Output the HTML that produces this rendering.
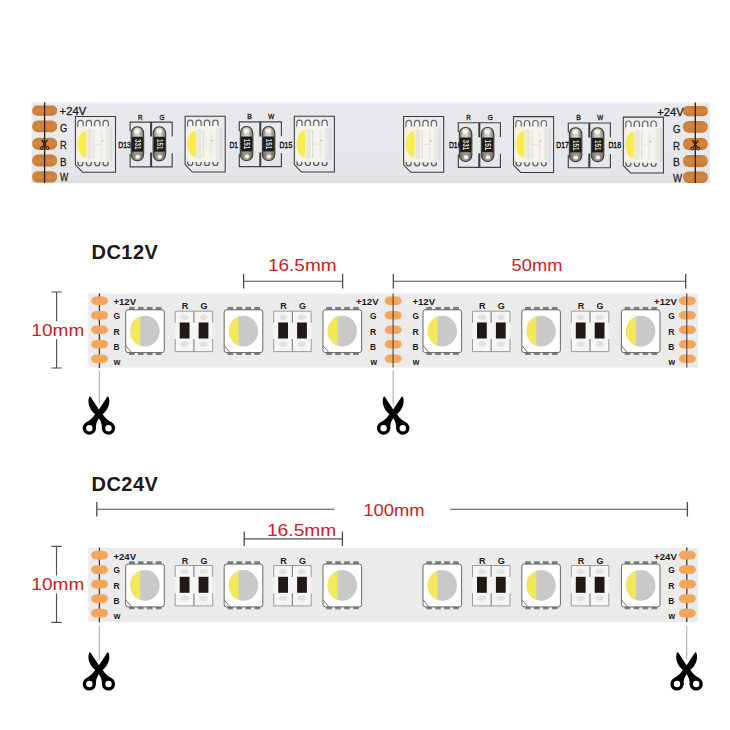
<!DOCTYPE html>
<html><head><meta charset="utf-8"><title>LED strip</title>
<style>html,body{margin:0;padding:0;background:#fff;width:730px;height:730px;overflow:hidden;}svg{display:block;font-family:"Liberation Sans",sans-serif;}</style>
</head><body>
<svg width="730" height="730" viewBox="0 0 730 730">
<defs>
<linearGradient id="pcb" x1="0" y1="0" x2="0" y2="1"><stop offset="0" stop-color="#e6e8ec"/><stop offset="0.45" stop-color="#e8e9ed"/><stop offset="0.9" stop-color="#e3e5e9"/><stop offset="1" stop-color="#dcdee2"/></linearGradient>
<linearGradient id="ledbody" x1="0" y1="0" x2="1" y2="0"><stop offset="0" stop-color="#f6f3df"/><stop offset="0.35" stop-color="#f5f4ec"/><stop offset="1" stop-color="#f4f4f0"/></linearGradient>
<radialGradient id="yel" cx="0.75" cy="0.5" r="0.75"><stop offset="0" stop-color="#fbee3e"/><stop offset="0.6" stop-color="#f8ea56"/><stop offset="1" stop-color="#f4e994"/></radialGradient>
<linearGradient id="cap" x1="0" y1="0" x2="1" y2="0"><stop offset="0" stop-color="#6b6a62"/><stop offset="0.3" stop-color="#cfcbc0"/><stop offset="0.6" stop-color="#d9d6cc"/><stop offset="1" stop-color="#77756c"/></linearGradient>
<linearGradient id="cu" x1="0" y1="0" x2="0" y2="1"><stop offset="0" stop-color="#c97c37"/><stop offset="0.5" stop-color="#d3863d"/><stop offset="1" stop-color="#c67a35"/></linearGradient>
</defs>
<rect width="730" height="730" fill="#ffffff"/>
<g font-family="Liberation Sans, sans-serif">
<rect x="31.5" y="102.3" width="678.5" height="80.8" fill="url(#pcb)"/>
<rect x="31.5" y="102.3" width="678.5" height="1.2" fill="#f1f2f5"/>
<rect x="31.5" y="181.6" width="678.5" height="1.5" fill="#dcdee3"/>
<g transform="translate(0,-0.1)">
<path d="M75.40,116.5 H115.50 V172.3 H82.60 L75.40,164.90 Z" fill="#e8eaee" stroke="#3a3a3c" stroke-width="1.05"/>
<rect x="109.20" y="127.4" width="3.0" height="33.79999999999998" fill="#d6d8dd" opacity="0.8"/>
<path d="M77.30,128.40 V123.10 A3.2,3.3 0 0 1 83.70,123.10 V128.40 Z" fill="#676765"/>
<path d="M78.50,128.40 V123.20 A2.0,2.2 0 0 1 82.50,123.20 V128.40 Z" fill="#f6f6f4"/>
<path d="M77.40,160.20 V163.50 A3.1,2.9 0 0 0 83.60,163.50 V160.20 Z" fill="#5e5e5c"/>
<path d="M78.70,160.20 V163.50 A1.8,1.8 0 0 0 82.30,163.50 V160.20 Z" fill="#e6e6e2"/>
<path d="M85.70,128.40 V123.10 A3.2,3.3 0 0 1 92.10,123.10 V128.40 Z" fill="#676765"/>
<path d="M86.90,128.40 V123.20 A2.0,2.2 0 0 1 90.90,123.20 V128.40 Z" fill="#f6f6f4"/>
<path d="M85.80,160.20 V163.50 A3.1,2.9 0 0 0 92.00,163.50 V160.20 Z" fill="#5e5e5c"/>
<path d="M87.10,160.20 V163.50 A1.8,1.8 0 0 0 90.70,163.50 V160.20 Z" fill="#e6e6e2"/>
<path d="M94.10,128.40 V123.10 A3.2,3.3 0 0 1 100.50,123.10 V128.40 Z" fill="#676765"/>
<path d="M95.30,128.40 V123.20 A2.0,2.2 0 0 1 99.30,123.20 V128.40 Z" fill="#f6f6f4"/>
<path d="M94.20,160.20 V163.50 A3.1,2.9 0 0 0 100.40,163.50 V160.20 Z" fill="#5e5e5c"/>
<path d="M95.50,160.20 V163.50 A1.8,1.8 0 0 0 99.10,163.50 V160.20 Z" fill="#e6e6e2"/>
<path d="M102.50,128.40 V123.10 A3.2,3.3 0 0 1 108.90,123.10 V128.40 Z" fill="#676765"/>
<path d="M103.70,128.40 V123.20 A2.0,2.2 0 0 1 107.70,123.20 V128.40 Z" fill="#f6f6f4"/>
<path d="M102.60,160.20 V163.50 A3.1,2.9 0 0 0 108.80,163.50 V160.20 Z" fill="#5e5e5c"/>
<path d="M103.90,160.20 V163.50 A1.8,1.8 0 0 0 107.50,163.50 V160.20 Z" fill="#e6e6e2"/>
<rect x="77.00" y="126.4" width="33.2" height="35.79999999999998" rx="2.2" ry="2.2" fill="url(#ledbody)"/>
<rect x="87.20" y="129.4" width="4.6" height="29.799999999999983" fill="#dcdad2" opacity="0.55"/>
<rect x="93.20" y="130.4" width="1.2" height="27.799999999999983" fill="#d6d4cb" opacity="0.7"/>
<rect x="100.80" y="130.4" width="1.2" height="27.799999999999983" fill="#d6d4cb" opacity="0.5"/>
<rect x="93.80" y="143.9" width="7" height="1.0" fill="#d6d4cb" opacity="0.5"/>
<circle cx="102.60" cy="140.9" r="0.8" fill="#a89c88" opacity="0.8"/>
<rect x="106.00" y="127.4" width="4.2" height="33.79999999999998" rx="1.5" fill="#e4e4e0" opacity="0.7"/>
<path d="M86.40,130.9 A9.2,13.3 0 0 0 86.40,157.5 Z" fill="url(#yel)"/>
</g>
<g transform="translate(0,-0.3)">
<path d="M185.10,116.5 H225.20 V172.3 H192.30 L185.10,164.90 Z" fill="#e8eaee" stroke="#3a3a3c" stroke-width="1.05"/>
<rect x="218.90" y="127.4" width="3.0" height="33.79999999999998" fill="#d6d8dd" opacity="0.8"/>
<path d="M187.00,128.40 V123.10 A3.2,3.3 0 0 1 193.40,123.10 V128.40 Z" fill="#676765"/>
<path d="M188.20,128.40 V123.20 A2.0,2.2 0 0 1 192.20,123.20 V128.40 Z" fill="#f6f6f4"/>
<path d="M187.10,160.20 V163.50 A3.1,2.9 0 0 0 193.30,163.50 V160.20 Z" fill="#5e5e5c"/>
<path d="M188.40,160.20 V163.50 A1.8,1.8 0 0 0 192.00,163.50 V160.20 Z" fill="#e6e6e2"/>
<path d="M195.40,128.40 V123.10 A3.2,3.3 0 0 1 201.80,123.10 V128.40 Z" fill="#676765"/>
<path d="M196.60,128.40 V123.20 A2.0,2.2 0 0 1 200.60,123.20 V128.40 Z" fill="#f6f6f4"/>
<path d="M195.50,160.20 V163.50 A3.1,2.9 0 0 0 201.70,163.50 V160.20 Z" fill="#5e5e5c"/>
<path d="M196.80,160.20 V163.50 A1.8,1.8 0 0 0 200.40,163.50 V160.20 Z" fill="#e6e6e2"/>
<path d="M203.80,128.40 V123.10 A3.2,3.3 0 0 1 210.20,123.10 V128.40 Z" fill="#676765"/>
<path d="M205.00,128.40 V123.20 A2.0,2.2 0 0 1 209.00,123.20 V128.40 Z" fill="#f6f6f4"/>
<path d="M203.90,160.20 V163.50 A3.1,2.9 0 0 0 210.10,163.50 V160.20 Z" fill="#5e5e5c"/>
<path d="M205.20,160.20 V163.50 A1.8,1.8 0 0 0 208.80,163.50 V160.20 Z" fill="#e6e6e2"/>
<path d="M212.20,128.40 V123.10 A3.2,3.3 0 0 1 218.60,123.10 V128.40 Z" fill="#676765"/>
<path d="M213.40,128.40 V123.20 A2.0,2.2 0 0 1 217.40,123.20 V128.40 Z" fill="#f6f6f4"/>
<path d="M212.30,160.20 V163.50 A3.1,2.9 0 0 0 218.50,163.50 V160.20 Z" fill="#5e5e5c"/>
<path d="M213.60,160.20 V163.50 A1.8,1.8 0 0 0 217.20,163.50 V160.20 Z" fill="#e6e6e2"/>
<rect x="186.70" y="126.4" width="33.2" height="35.79999999999998" rx="2.2" ry="2.2" fill="url(#ledbody)"/>
<rect x="196.90" y="129.4" width="4.6" height="29.799999999999983" fill="#dcdad2" opacity="0.55"/>
<rect x="202.90" y="130.4" width="1.2" height="27.799999999999983" fill="#d6d4cb" opacity="0.7"/>
<rect x="210.50" y="130.4" width="1.2" height="27.799999999999983" fill="#d6d4cb" opacity="0.5"/>
<rect x="203.50" y="143.9" width="7" height="1.0" fill="#d6d4cb" opacity="0.5"/>
<circle cx="212.30" cy="140.9" r="0.8" fill="#a89c88" opacity="0.8"/>
<rect x="215.70" y="127.4" width="4.2" height="33.79999999999998" rx="1.5" fill="#e4e4e0" opacity="0.7"/>
<path d="M196.10,130.9 A9.2,13.3 0 0 0 196.10,157.5 Z" fill="url(#yel)"/>
</g>
<g transform="translate(0,-0.3)">
<path d="M294.30,116.5 H334.40 V172.3 H301.50 L294.30,164.90 Z" fill="#e8eaee" stroke="#3a3a3c" stroke-width="1.05"/>
<rect x="328.10" y="127.4" width="3.0" height="33.79999999999998" fill="#d6d8dd" opacity="0.8"/>
<path d="M296.20,128.40 V123.10 A3.2,3.3 0 0 1 302.60,123.10 V128.40 Z" fill="#676765"/>
<path d="M297.40,128.40 V123.20 A2.0,2.2 0 0 1 301.40,123.20 V128.40 Z" fill="#f6f6f4"/>
<path d="M296.30,160.20 V163.50 A3.1,2.9 0 0 0 302.50,163.50 V160.20 Z" fill="#5e5e5c"/>
<path d="M297.60,160.20 V163.50 A1.8,1.8 0 0 0 301.20,163.50 V160.20 Z" fill="#e6e6e2"/>
<path d="M304.60,128.40 V123.10 A3.2,3.3 0 0 1 311.00,123.10 V128.40 Z" fill="#676765"/>
<path d="M305.80,128.40 V123.20 A2.0,2.2 0 0 1 309.80,123.20 V128.40 Z" fill="#f6f6f4"/>
<path d="M304.70,160.20 V163.50 A3.1,2.9 0 0 0 310.90,163.50 V160.20 Z" fill="#5e5e5c"/>
<path d="M306.00,160.20 V163.50 A1.8,1.8 0 0 0 309.60,163.50 V160.20 Z" fill="#e6e6e2"/>
<path d="M313.00,128.40 V123.10 A3.2,3.3 0 0 1 319.40,123.10 V128.40 Z" fill="#676765"/>
<path d="M314.20,128.40 V123.20 A2.0,2.2 0 0 1 318.20,123.20 V128.40 Z" fill="#f6f6f4"/>
<path d="M313.10,160.20 V163.50 A3.1,2.9 0 0 0 319.30,163.50 V160.20 Z" fill="#5e5e5c"/>
<path d="M314.40,160.20 V163.50 A1.8,1.8 0 0 0 318.00,163.50 V160.20 Z" fill="#e6e6e2"/>
<path d="M321.40,128.40 V123.10 A3.2,3.3 0 0 1 327.80,123.10 V128.40 Z" fill="#676765"/>
<path d="M322.60,128.40 V123.20 A2.0,2.2 0 0 1 326.60,123.20 V128.40 Z" fill="#f6f6f4"/>
<path d="M321.50,160.20 V163.50 A3.1,2.9 0 0 0 327.70,163.50 V160.20 Z" fill="#5e5e5c"/>
<path d="M322.80,160.20 V163.50 A1.8,1.8 0 0 0 326.40,163.50 V160.20 Z" fill="#e6e6e2"/>
<rect x="295.90" y="126.4" width="33.2" height="35.79999999999998" rx="2.2" ry="2.2" fill="url(#ledbody)"/>
<rect x="306.10" y="129.4" width="4.6" height="29.799999999999983" fill="#dcdad2" opacity="0.55"/>
<rect x="312.10" y="130.4" width="1.2" height="27.799999999999983" fill="#d6d4cb" opacity="0.7"/>
<rect x="319.70" y="130.4" width="1.2" height="27.799999999999983" fill="#d6d4cb" opacity="0.5"/>
<rect x="312.70" y="143.9" width="7" height="1.0" fill="#d6d4cb" opacity="0.5"/>
<circle cx="321.50" cy="140.9" r="0.8" fill="#a89c88" opacity="0.8"/>
<rect x="324.90" y="127.4" width="4.2" height="33.79999999999998" rx="1.5" fill="#e4e4e0" opacity="0.7"/>
<path d="M305.30,130.9 A9.2,13.3 0 0 0 305.30,157.5 Z" fill="url(#yel)"/>
</g>
<g transform="translate(0,0.0)">
<path d="M403.60,116.5 H443.70 V172.3 H410.80 L403.60,164.90 Z" fill="#e8eaee" stroke="#3a3a3c" stroke-width="1.05"/>
<rect x="437.40" y="127.4" width="3.0" height="33.79999999999998" fill="#d6d8dd" opacity="0.8"/>
<path d="M405.50,128.40 V123.10 A3.2,3.3 0 0 1 411.90,123.10 V128.40 Z" fill="#676765"/>
<path d="M406.70,128.40 V123.20 A2.0,2.2 0 0 1 410.70,123.20 V128.40 Z" fill="#f6f6f4"/>
<path d="M405.60,160.20 V163.50 A3.1,2.9 0 0 0 411.80,163.50 V160.20 Z" fill="#5e5e5c"/>
<path d="M406.90,160.20 V163.50 A1.8,1.8 0 0 0 410.50,163.50 V160.20 Z" fill="#e6e6e2"/>
<path d="M413.90,128.40 V123.10 A3.2,3.3 0 0 1 420.30,123.10 V128.40 Z" fill="#676765"/>
<path d="M415.10,128.40 V123.20 A2.0,2.2 0 0 1 419.10,123.20 V128.40 Z" fill="#f6f6f4"/>
<path d="M414.00,160.20 V163.50 A3.1,2.9 0 0 0 420.20,163.50 V160.20 Z" fill="#5e5e5c"/>
<path d="M415.30,160.20 V163.50 A1.8,1.8 0 0 0 418.90,163.50 V160.20 Z" fill="#e6e6e2"/>
<path d="M422.30,128.40 V123.10 A3.2,3.3 0 0 1 428.70,123.10 V128.40 Z" fill="#676765"/>
<path d="M423.50,128.40 V123.20 A2.0,2.2 0 0 1 427.50,123.20 V128.40 Z" fill="#f6f6f4"/>
<path d="M422.40,160.20 V163.50 A3.1,2.9 0 0 0 428.60,163.50 V160.20 Z" fill="#5e5e5c"/>
<path d="M423.70,160.20 V163.50 A1.8,1.8 0 0 0 427.30,163.50 V160.20 Z" fill="#e6e6e2"/>
<path d="M430.70,128.40 V123.10 A3.2,3.3 0 0 1 437.10,123.10 V128.40 Z" fill="#676765"/>
<path d="M431.90,128.40 V123.20 A2.0,2.2 0 0 1 435.90,123.20 V128.40 Z" fill="#f6f6f4"/>
<path d="M430.80,160.20 V163.50 A3.1,2.9 0 0 0 437.00,163.50 V160.20 Z" fill="#5e5e5c"/>
<path d="M432.10,160.20 V163.50 A1.8,1.8 0 0 0 435.70,163.50 V160.20 Z" fill="#e6e6e2"/>
<rect x="405.20" y="126.4" width="33.2" height="35.79999999999998" rx="2.2" ry="2.2" fill="url(#ledbody)"/>
<rect x="415.40" y="129.4" width="4.6" height="29.799999999999983" fill="#dcdad2" opacity="0.55"/>
<rect x="421.40" y="130.4" width="1.2" height="27.799999999999983" fill="#d6d4cb" opacity="0.7"/>
<rect x="429.00" y="130.4" width="1.2" height="27.799999999999983" fill="#d6d4cb" opacity="0.5"/>
<rect x="422.00" y="143.9" width="7" height="1.0" fill="#d6d4cb" opacity="0.5"/>
<circle cx="430.80" cy="140.9" r="0.8" fill="#a89c88" opacity="0.8"/>
<rect x="434.20" y="127.4" width="4.2" height="33.79999999999998" rx="1.5" fill="#e4e4e0" opacity="0.7"/>
<path d="M414.60,130.9 A9.2,13.3 0 0 0 414.60,157.5 Z" fill="url(#yel)"/>
</g>
<g transform="translate(0,0.1)">
<path d="M513.50,116.5 H553.60 V172.3 H520.70 L513.50,164.90 Z" fill="#e8eaee" stroke="#3a3a3c" stroke-width="1.05"/>
<rect x="547.30" y="127.4" width="3.0" height="33.79999999999998" fill="#d6d8dd" opacity="0.8"/>
<path d="M515.40,128.40 V123.10 A3.2,3.3 0 0 1 521.80,123.10 V128.40 Z" fill="#676765"/>
<path d="M516.60,128.40 V123.20 A2.0,2.2 0 0 1 520.60,123.20 V128.40 Z" fill="#f6f6f4"/>
<path d="M515.50,160.20 V163.50 A3.1,2.9 0 0 0 521.70,163.50 V160.20 Z" fill="#5e5e5c"/>
<path d="M516.80,160.20 V163.50 A1.8,1.8 0 0 0 520.40,163.50 V160.20 Z" fill="#e6e6e2"/>
<path d="M523.80,128.40 V123.10 A3.2,3.3 0 0 1 530.20,123.10 V128.40 Z" fill="#676765"/>
<path d="M525.00,128.40 V123.20 A2.0,2.2 0 0 1 529.00,123.20 V128.40 Z" fill="#f6f6f4"/>
<path d="M523.90,160.20 V163.50 A3.1,2.9 0 0 0 530.10,163.50 V160.20 Z" fill="#5e5e5c"/>
<path d="M525.20,160.20 V163.50 A1.8,1.8 0 0 0 528.80,163.50 V160.20 Z" fill="#e6e6e2"/>
<path d="M532.20,128.40 V123.10 A3.2,3.3 0 0 1 538.60,123.10 V128.40 Z" fill="#676765"/>
<path d="M533.40,128.40 V123.20 A2.0,2.2 0 0 1 537.40,123.20 V128.40 Z" fill="#f6f6f4"/>
<path d="M532.30,160.20 V163.50 A3.1,2.9 0 0 0 538.50,163.50 V160.20 Z" fill="#5e5e5c"/>
<path d="M533.60,160.20 V163.50 A1.8,1.8 0 0 0 537.20,163.50 V160.20 Z" fill="#e6e6e2"/>
<path d="M540.60,128.40 V123.10 A3.2,3.3 0 0 1 547.00,123.10 V128.40 Z" fill="#676765"/>
<path d="M541.80,128.40 V123.20 A2.0,2.2 0 0 1 545.80,123.20 V128.40 Z" fill="#f6f6f4"/>
<path d="M540.70,160.20 V163.50 A3.1,2.9 0 0 0 546.90,163.50 V160.20 Z" fill="#5e5e5c"/>
<path d="M542.00,160.20 V163.50 A1.8,1.8 0 0 0 545.60,163.50 V160.20 Z" fill="#e6e6e2"/>
<rect x="515.10" y="126.4" width="33.2" height="35.79999999999998" rx="2.2" ry="2.2" fill="url(#ledbody)"/>
<rect x="525.30" y="129.4" width="4.6" height="29.799999999999983" fill="#dcdad2" opacity="0.55"/>
<rect x="531.30" y="130.4" width="1.2" height="27.799999999999983" fill="#d6d4cb" opacity="0.7"/>
<rect x="538.90" y="130.4" width="1.2" height="27.799999999999983" fill="#d6d4cb" opacity="0.5"/>
<rect x="531.90" y="143.9" width="7" height="1.0" fill="#d6d4cb" opacity="0.5"/>
<circle cx="540.70" cy="140.9" r="0.8" fill="#a89c88" opacity="0.8"/>
<rect x="544.10" y="127.4" width="4.2" height="33.79999999999998" rx="1.5" fill="#e4e4e0" opacity="0.7"/>
<path d="M524.50,130.9 A9.2,13.3 0 0 0 524.50,157.5 Z" fill="url(#yel)"/>
</g>
<g transform="translate(0,0.6)">
<path d="M623.30,116.5 H663.40 V172.3 H630.50 L623.30,164.90 Z" fill="#e8eaee" stroke="#3a3a3c" stroke-width="1.05"/>
<rect x="658.50" y="127.4" width="3.0" height="33.79999999999998" fill="#d6d8dd" opacity="0.8"/>
<path d="M625.20,128.40 V123.10 A3.2,3.3 0 0 1 631.60,123.10 V128.40 Z" fill="#676765"/>
<path d="M626.40,128.40 V123.20 A2.0,2.2 0 0 1 630.40,123.20 V128.40 Z" fill="#f6f6f4"/>
<path d="M625.30,160.20 V163.50 A3.1,2.9 0 0 0 631.50,163.50 V160.20 Z" fill="#5e5e5c"/>
<path d="M626.60,160.20 V163.50 A1.8,1.8 0 0 0 630.20,163.50 V160.20 Z" fill="#e6e6e2"/>
<path d="M633.60,128.40 V123.10 A3.2,3.3 0 0 1 640.00,123.10 V128.40 Z" fill="#676765"/>
<path d="M634.80,128.40 V123.20 A2.0,2.2 0 0 1 638.80,123.20 V128.40 Z" fill="#f6f6f4"/>
<path d="M633.70,160.20 V163.50 A3.1,2.9 0 0 0 639.90,163.50 V160.20 Z" fill="#5e5e5c"/>
<path d="M635.00,160.20 V163.50 A1.8,1.8 0 0 0 638.60,163.50 V160.20 Z" fill="#e6e6e2"/>
<path d="M642.00,128.40 V123.10 A3.2,3.3 0 0 1 648.40,123.10 V128.40 Z" fill="#676765"/>
<path d="M643.20,128.40 V123.20 A2.0,2.2 0 0 1 647.20,123.20 V128.40 Z" fill="#f6f6f4"/>
<path d="M642.10,160.20 V163.50 A3.1,2.9 0 0 0 648.30,163.50 V160.20 Z" fill="#5e5e5c"/>
<path d="M643.40,160.20 V163.50 A1.8,1.8 0 0 0 647.00,163.50 V160.20 Z" fill="#e6e6e2"/>
<path d="M650.40,128.40 V123.10 A3.2,3.3 0 0 1 656.80,123.10 V128.40 Z" fill="#676765"/>
<path d="M651.60,128.40 V123.20 A2.0,2.2 0 0 1 655.60,123.20 V128.40 Z" fill="#f6f6f4"/>
<path d="M650.50,160.20 V163.50 A3.1,2.9 0 0 0 656.70,163.50 V160.20 Z" fill="#5e5e5c"/>
<path d="M651.80,160.20 V163.50 A1.8,1.8 0 0 0 655.40,163.50 V160.20 Z" fill="#e6e6e2"/>
<rect x="624.90" y="126.4" width="34.6" height="35.79999999999998" rx="2.2" ry="2.2" fill="url(#ledbody)"/>
<rect x="635.10" y="129.4" width="4.6" height="29.799999999999983" fill="#dcdad2" opacity="0.55"/>
<rect x="641.10" y="130.4" width="1.2" height="27.799999999999983" fill="#d6d4cb" opacity="0.7"/>
<rect x="648.70" y="130.4" width="1.2" height="27.799999999999983" fill="#d6d4cb" opacity="0.5"/>
<rect x="641.70" y="143.9" width="7" height="1.0" fill="#d6d4cb" opacity="0.5"/>
<circle cx="650.50" cy="140.9" r="0.8" fill="#a89c88" opacity="0.8"/>
<rect x="655.30" y="127.4" width="4.2" height="33.79999999999998" rx="1.5" fill="#e4e4e0" opacity="0.7"/>
<path d="M634.30,130.9 A9.2,13.3 0 0 0 634.30,157.5 Z" fill="url(#yel)"/>
</g>
<g transform="translate(0,0.2)">
<path d="M130.10,131.4 V121.9 H172.20 V136.2 M130.10,153.8 V166.6 H172.20 V153.0" stroke="#434345" stroke-width="1.15" fill="none"/>
<path d="M151.10,121.9 V136.4 M151.10,152.4 V166.6" stroke="#3c3c3e" stroke-width="2.0" fill="none"/>
<rect x="131.20" y="126.7" width="12.4" height="33.8" rx="5.4" ry="6.4" fill="url(#cap)" stroke="#45433d" stroke-width="1.2"/>
<path d="M131.80,151.5 H143.00 V154.5 A5.4,5.6 0 0 1 131.80,154.5 Z" fill="#55534c" opacity="0.45"/>
<ellipse cx="137.10" cy="131.0" rx="2.7" ry="2.2" fill="#f7f5ef"/>
<ellipse cx="137.80" cy="156.5" rx="2.3" ry="2.0" fill="#f4f2ec"/>
<rect x="131.80" y="136.6" width="11.200000000000001" height="14.9" rx="0.8" fill="#1d1d1d"/>
<text transform="translate(134.50,144.1) rotate(90)" font-size="8.4" font-weight="bold" fill="#dedede" text-anchor="middle" textLength="10.6" lengthAdjust="spacingAndGlyphs">331</text>
<rect x="153.20" y="126.7" width="12.4" height="33.8" rx="5.4" ry="6.4" fill="url(#cap)" stroke="#45433d" stroke-width="1.2"/>
<path d="M153.80,151.5 H165.00 V154.5 A5.4,5.6 0 0 1 153.80,154.5 Z" fill="#55534c" opacity="0.45"/>
<ellipse cx="159.10" cy="131.0" rx="2.7" ry="2.2" fill="#f7f5ef"/>
<ellipse cx="159.80" cy="156.5" rx="2.3" ry="2.0" fill="#f4f2ec"/>
<rect x="153.80" y="136.6" width="11.200000000000001" height="14.9" rx="0.8" fill="#1d1d1d"/>
<text transform="translate(156.50,144.1) rotate(90)" font-size="8.4" font-weight="bold" fill="#dedede" text-anchor="middle" textLength="10.6" lengthAdjust="spacingAndGlyphs">151</text>
<text x="140.40" y="119.4" font-size="7.4" fill="#222" font-weight="normal" text-anchor="middle" textLength="4.6" lengthAdjust="spacingAndGlyphs" stroke="#222" stroke-width="0.35">R</text>
<text x="162.00" y="119.4" font-size="7.4" fill="#222" font-weight="normal" text-anchor="middle" textLength="5.0" lengthAdjust="spacingAndGlyphs" stroke="#222" stroke-width="0.35">G</text>
</g>
<g transform="translate(0,0.0)">
<path d="M239.30,131.4 V121.9 H281.40 V136.2 M239.30,153.8 V166.6 H281.40 V153.0" stroke="#434345" stroke-width="1.15" fill="none"/>
<path d="M260.30,121.9 V136.4 M260.30,152.4 V166.6" stroke="#3c3c3e" stroke-width="2.0" fill="none"/>
<rect x="240.40" y="126.7" width="12.4" height="33.8" rx="5.4" ry="6.4" fill="url(#cap)" stroke="#45433d" stroke-width="1.2"/>
<path d="M241.00,151.5 H252.20 V154.5 A5.4,5.6 0 0 1 241.00,154.5 Z" fill="#55534c" opacity="0.45"/>
<ellipse cx="246.30" cy="131.0" rx="2.7" ry="2.2" fill="#f7f5ef"/>
<ellipse cx="247.00" cy="156.5" rx="2.3" ry="2.0" fill="#f4f2ec"/>
<rect x="241.00" y="136.6" width="11.200000000000001" height="14.9" rx="0.8" fill="#1d1d1d"/>
<text transform="translate(243.70,144.1) rotate(90)" font-size="8.4" font-weight="bold" fill="#dedede" text-anchor="middle" textLength="10.6" lengthAdjust="spacingAndGlyphs">151</text>
<rect x="262.40" y="126.7" width="12.4" height="33.8" rx="5.4" ry="6.4" fill="url(#cap)" stroke="#45433d" stroke-width="1.2"/>
<path d="M263.00,151.5 H274.20 V154.5 A5.4,5.6 0 0 1 263.00,154.5 Z" fill="#55534c" opacity="0.45"/>
<ellipse cx="268.30" cy="131.0" rx="2.7" ry="2.2" fill="#f7f5ef"/>
<ellipse cx="269.00" cy="156.5" rx="2.3" ry="2.0" fill="#f4f2ec"/>
<rect x="263.00" y="136.6" width="11.200000000000001" height="14.9" rx="0.8" fill="#1d1d1d"/>
<text transform="translate(265.70,144.1) rotate(90)" font-size="8.4" font-weight="bold" fill="#dedede" text-anchor="middle" textLength="10.6" lengthAdjust="spacingAndGlyphs">151</text>
<text x="249.60" y="119.4" font-size="7.4" fill="#222" font-weight="normal" text-anchor="middle" textLength="4.6" lengthAdjust="spacingAndGlyphs" stroke="#222" stroke-width="0.35">B</text>
<text x="271.20" y="119.4" font-size="7.4" fill="#222" font-weight="normal" text-anchor="middle" textLength="5.9" lengthAdjust="spacingAndGlyphs" stroke="#222" stroke-width="0.35">W</text>
</g>
<g transform="translate(0,0.8)">
<path d="M458.30,131.4 V121.9 H500.40 V136.2 M458.30,153.8 V166.6 H500.40 V153.0" stroke="#434345" stroke-width="1.15" fill="none"/>
<path d="M479.30,121.9 V136.4 M479.30,152.4 V166.6" stroke="#3c3c3e" stroke-width="2.0" fill="none"/>
<rect x="459.40" y="126.7" width="12.4" height="33.8" rx="5.4" ry="6.4" fill="url(#cap)" stroke="#45433d" stroke-width="1.2"/>
<path d="M460.00,151.5 H471.20 V154.5 A5.4,5.6 0 0 1 460.00,154.5 Z" fill="#55534c" opacity="0.45"/>
<ellipse cx="465.30" cy="131.0" rx="2.7" ry="2.2" fill="#f7f5ef"/>
<ellipse cx="466.00" cy="156.5" rx="2.3" ry="2.0" fill="#f4f2ec"/>
<rect x="460.00" y="136.6" width="11.200000000000001" height="14.9" rx="0.8" fill="#1d1d1d"/>
<text transform="translate(462.70,144.1) rotate(90)" font-size="8.4" font-weight="bold" fill="#dedede" text-anchor="middle" textLength="10.6" lengthAdjust="spacingAndGlyphs">331</text>
<rect x="481.40" y="126.7" width="12.4" height="33.8" rx="5.4" ry="6.4" fill="url(#cap)" stroke="#45433d" stroke-width="1.2"/>
<path d="M482.00,151.5 H493.20 V154.5 A5.4,5.6 0 0 1 482.00,154.5 Z" fill="#55534c" opacity="0.45"/>
<ellipse cx="487.30" cy="131.0" rx="2.7" ry="2.2" fill="#f7f5ef"/>
<ellipse cx="488.00" cy="156.5" rx="2.3" ry="2.0" fill="#f4f2ec"/>
<rect x="482.00" y="136.6" width="11.200000000000001" height="14.9" rx="0.8" fill="#1d1d1d"/>
<text transform="translate(484.70,144.1) rotate(90)" font-size="8.4" font-weight="bold" fill="#dedede" text-anchor="middle" textLength="10.6" lengthAdjust="spacingAndGlyphs">151</text>
<text x="468.60" y="119.4" font-size="7.4" fill="#222" font-weight="normal" text-anchor="middle" textLength="4.6" lengthAdjust="spacingAndGlyphs" stroke="#222" stroke-width="0.35">R</text>
<text x="490.20" y="119.4" font-size="7.4" fill="#222" font-weight="normal" text-anchor="middle" textLength="5.0" lengthAdjust="spacingAndGlyphs" stroke="#222" stroke-width="0.35">G</text>
</g>
<g transform="translate(0,1.1)">
<path d="M568.30,131.4 V121.9 H610.40 V136.2 M568.30,153.8 V166.6 H610.40 V153.0" stroke="#434345" stroke-width="1.15" fill="none"/>
<path d="M589.30,121.9 V136.4 M589.30,152.4 V166.6" stroke="#3c3c3e" stroke-width="2.0" fill="none"/>
<rect x="569.40" y="126.7" width="12.4" height="33.8" rx="5.4" ry="6.4" fill="url(#cap)" stroke="#45433d" stroke-width="1.2"/>
<path d="M570.00,151.5 H581.20 V154.5 A5.4,5.6 0 0 1 570.00,154.5 Z" fill="#55534c" opacity="0.45"/>
<ellipse cx="575.30" cy="131.0" rx="2.7" ry="2.2" fill="#f7f5ef"/>
<ellipse cx="576.00" cy="156.5" rx="2.3" ry="2.0" fill="#f4f2ec"/>
<rect x="570.00" y="136.6" width="11.200000000000001" height="14.9" rx="0.8" fill="#1d1d1d"/>
<text transform="translate(572.70,144.1) rotate(90)" font-size="8.4" font-weight="bold" fill="#dedede" text-anchor="middle" textLength="10.6" lengthAdjust="spacingAndGlyphs">151</text>
<rect x="591.40" y="126.7" width="12.4" height="33.8" rx="5.4" ry="6.4" fill="url(#cap)" stroke="#45433d" stroke-width="1.2"/>
<path d="M592.00,151.5 H603.20 V154.5 A5.4,5.6 0 0 1 592.00,154.5 Z" fill="#55534c" opacity="0.45"/>
<ellipse cx="597.30" cy="131.0" rx="2.7" ry="2.2" fill="#f7f5ef"/>
<ellipse cx="598.00" cy="156.5" rx="2.3" ry="2.0" fill="#f4f2ec"/>
<rect x="592.00" y="136.6" width="11.200000000000001" height="14.9" rx="0.8" fill="#1d1d1d"/>
<text transform="translate(594.70,144.1) rotate(90)" font-size="8.4" font-weight="bold" fill="#dedede" text-anchor="middle" textLength="10.6" lengthAdjust="spacingAndGlyphs">151</text>
<text x="578.60" y="119.4" font-size="7.4" fill="#222" font-weight="normal" text-anchor="middle" textLength="4.6" lengthAdjust="spacingAndGlyphs" stroke="#222" stroke-width="0.35">B</text>
<text x="600.20" y="119.4" font-size="7.4" fill="#222" font-weight="normal" text-anchor="middle" textLength="5.9" lengthAdjust="spacingAndGlyphs" stroke="#222" stroke-width="0.35">W</text>
</g>
<text x="118.2" y="148.0" font-size="9.4" fill="#151515" font-weight="normal" text-anchor="start" textLength="12.6" lengthAdjust="spacingAndGlyphs" stroke="#151515" stroke-width="0.4">D13</text>
<text x="229.4" y="148.0" font-size="9.4" fill="#151515" font-weight="normal" text-anchor="start" textLength="8.6" lengthAdjust="spacingAndGlyphs" stroke="#151515" stroke-width="0.4">D1</text>
<text x="279.5" y="148.0" font-size="9.4" fill="#151515" font-weight="normal" text-anchor="start" textLength="12.8" lengthAdjust="spacingAndGlyphs" stroke="#151515" stroke-width="0.4">D15</text>
<text x="448.9" y="148.0" font-size="9.4" fill="#151515" font-weight="normal" text-anchor="start" textLength="12.6" lengthAdjust="spacingAndGlyphs" stroke="#151515" stroke-width="0.4">D16</text>
<text x="556.2" y="148.0" font-size="9.4" fill="#151515" font-weight="normal" text-anchor="start" textLength="12.6" lengthAdjust="spacingAndGlyphs" stroke="#151515" stroke-width="0.4">D17</text>
<text x="608.4" y="148.0" font-size="9.4" fill="#151515" font-weight="normal" text-anchor="start" textLength="12.6" lengthAdjust="spacingAndGlyphs" stroke="#151515" stroke-width="0.4">D18</text>
<rect x="32.10" y="105.60" width="25.2" height="10.2" rx="5.10" ry="5.10" fill="url(#cu)"/>
<rect x="32.10" y="120.50" width="25.2" height="11.8" rx="5.90" ry="5.90" fill="url(#cu)"/>
<rect x="32.10" y="137.70" width="25.2" height="12.0" rx="6.00" ry="6.00" fill="url(#cu)"/>
<rect x="32.10" y="154.50" width="25.2" height="12.0" rx="6.00" ry="6.00" fill="url(#cu)"/>
<rect x="32.10" y="171.20" width="25.2" height="11.4" rx="5.70" ry="5.70" fill="url(#cu)"/>
<path d="M44.6,102.4 V183" stroke="#2a1c10" stroke-width="1.3"/>
<g transform="translate(44.6,139.7)" stroke="#2a1408" fill="none" stroke-width="1">
<path d="M-2.8,0.2 L1.7,6.8 M2.8,0.2 L-1.7,6.8" stroke-width="1.35"/>
<circle cx="-2.9" cy="8.4" r="1.45"/><circle cx="2.9" cy="8.4" r="1.45"/>
</g>
<rect x="682.80" y="106.00" width="25.2" height="10.2" rx="5.10" ry="5.10" fill="url(#cu)"/>
<rect x="682.80" y="120.90" width="25.2" height="11.8" rx="5.90" ry="5.90" fill="url(#cu)"/>
<rect x="682.80" y="138.10" width="25.2" height="12.0" rx="6.00" ry="6.00" fill="url(#cu)"/>
<rect x="682.80" y="154.90" width="25.2" height="12.0" rx="6.00" ry="6.00" fill="url(#cu)"/>
<rect x="682.80" y="171.60" width="25.2" height="11.4" rx="5.70" ry="5.70" fill="url(#cu)"/>
<path d="M695.3,102.4 V183" stroke="#2a1c10" stroke-width="1.3"/>
<g transform="translate(695.3,140.1)" stroke="#2a1408" fill="none" stroke-width="1">
<path d="M-2.8,0.2 L1.7,6.8 M2.8,0.2 L-1.7,6.8" stroke-width="1.35"/>
<circle cx="-2.9" cy="8.4" r="1.45"/><circle cx="2.9" cy="8.4" r="1.45"/>
</g>
<text x="59.6" y="114.6" font-size="10.6" fill="#1e1e1e" font-weight="normal" text-anchor="start" textLength="26.6" lengthAdjust="spacingAndGlyphs" stroke="#1e1e1e" stroke-width="0.3">+24V</text>
<text x="60.0" y="132.1" font-size="11.5" fill="#1e1e1e" font-weight="normal" text-anchor="start" textLength="7.3" lengthAdjust="spacingAndGlyphs" stroke="#1e1e1e" stroke-width="0.3">G</text>
<text x="60.0" y="149.0" font-size="11.5" fill="#1e1e1e" font-weight="normal" text-anchor="start" textLength="6.7" lengthAdjust="spacingAndGlyphs" stroke="#1e1e1e" stroke-width="0.3">R</text>
<text x="60.0" y="166.3" font-size="11.5" fill="#1e1e1e" font-weight="normal" text-anchor="start" textLength="6.5" lengthAdjust="spacingAndGlyphs" stroke="#1e1e1e" stroke-width="0.3">B</text>
<text x="60.0" y="181.0" font-size="11.5" fill="#1e1e1e" font-weight="normal" text-anchor="start" textLength="8.2" lengthAdjust="spacingAndGlyphs" stroke="#1e1e1e" stroke-width="0.3">W</text>
<text x="683.6" y="115.5" font-size="10.6" fill="#1e1e1e" font-weight="normal" text-anchor="end" textLength="26.4" lengthAdjust="spacingAndGlyphs" stroke="#1e1e1e" stroke-width="0.3">+24V</text>
<text x="673.0" y="132.6" font-size="11.6" fill="#1e1e1e" font-weight="normal" text-anchor="start" textLength="7.5" lengthAdjust="spacingAndGlyphs" stroke="#1e1e1e" stroke-width="0.3">G</text>
<text x="673.0" y="149.5" font-size="11.6" fill="#1e1e1e" font-weight="normal" text-anchor="start" textLength="7.0" lengthAdjust="spacingAndGlyphs" stroke="#1e1e1e" stroke-width="0.3">R</text>
<text x="673.0" y="166.4" font-size="11.6" fill="#1e1e1e" font-weight="normal" text-anchor="start" textLength="6.8" lengthAdjust="spacingAndGlyphs" stroke="#1e1e1e" stroke-width="0.3">B</text>
<text x="673.0" y="181.8" font-size="11.6" fill="#1e1e1e" font-weight="normal" text-anchor="start" textLength="9.0" lengthAdjust="spacingAndGlyphs" stroke="#1e1e1e" stroke-width="0.3">W</text>
<text x="91.6" y="259.4" font-size="20" fill="#231815" font-weight="bold" text-anchor="start" textLength="66.2" lengthAdjust="spacing" >DC12V</text>
<path d="M243.6,281.2 H342.6" stroke="#4f4f4f" stroke-width="1.15" fill="none"/>
<path d="M243.6,274.0 V288.4 M342.6,274.0 V288.4" stroke="#4a4a4a" stroke-width="1.3" fill="none"/>
<text x="267.9" y="271.0" font-size="17" fill="#cb1c25" font-weight="normal" text-anchor="start" textLength="68.8" lengthAdjust="spacingAndGlyphs" >16.5mm</text>
<path d="M393.3,281.2 H685.7" stroke="#4f4f4f" stroke-width="1.15" fill="none"/>
<path d="M393.3,274.0 V288.4 M685.7,274.0 V288.4" stroke="#4a4a4a" stroke-width="1.3" fill="none"/>
<text x="537.0" y="270.5" font-size="17" fill="#cb1c25" font-weight="normal" text-anchor="middle" textLength="50.8" lengthAdjust="spacingAndGlyphs" >50mm</text>
<path d="M56.6,292.0 V321.3 M56.6,339.2 V368.0 M51.4,292.0 H61.800000000000004 M51.4,368.0 H61.800000000000004" stroke="#4f4f4f" stroke-width="1.15" fill="none"/>
<text x="31.3" y="336.4" font-size="17" fill="#cb1c25" font-weight="normal" text-anchor="start" textLength="53.0" lengthAdjust="spacingAndGlyphs" >10mm</text>
<rect x="88.3" y="293.6" width="609.7" height="74" fill="#ebebeb"/>
<rect x="129.00" y="306.90" width="5.6" height="3.4" fill="#808080"/>
<rect x="129.00" y="352.10" width="5.6" height="2.9" fill="#808080"/>
<rect x="137.95" y="306.90" width="5.6" height="3.4" fill="#808080"/>
<rect x="137.95" y="352.10" width="5.6" height="2.9" fill="#808080"/>
<rect x="146.90" y="306.90" width="5.6" height="3.4" fill="#808080"/>
<rect x="146.90" y="352.10" width="5.6" height="2.9" fill="#808080"/>
<rect x="155.85" y="306.90" width="5.6" height="3.4" fill="#808080"/>
<rect x="155.85" y="352.10" width="5.6" height="2.9" fill="#808080"/>
<rect x="125.70" y="309.80" width="38.6" height="42.8" rx="2.3" ry="2.3" fill="#ffffff" stroke="#505050" stroke-width="0.85"/>
<path d="M126.00,345.80 L131.40,352.30" stroke="#505050" stroke-width="0.8" fill="none"/>
<ellipse cx="145.00" cy="331.10" rx="14.7" ry="15.3" fill="#c9c9ca"/>
<path d="M140.20,316.64 A14.7,15.3 0 0 0 140.20,345.56 Z" fill="#f4e858"/>
<rect x="227.50" y="306.90" width="5.6" height="3.4" fill="#808080"/>
<rect x="227.50" y="352.10" width="5.6" height="2.9" fill="#808080"/>
<rect x="236.45" y="306.90" width="5.6" height="3.4" fill="#808080"/>
<rect x="236.45" y="352.10" width="5.6" height="2.9" fill="#808080"/>
<rect x="245.40" y="306.90" width="5.6" height="3.4" fill="#808080"/>
<rect x="245.40" y="352.10" width="5.6" height="2.9" fill="#808080"/>
<rect x="254.35" y="306.90" width="5.6" height="3.4" fill="#808080"/>
<rect x="254.35" y="352.10" width="5.6" height="2.9" fill="#808080"/>
<rect x="224.20" y="309.80" width="38.6" height="42.8" rx="2.3" ry="2.3" fill="#ffffff" stroke="#505050" stroke-width="0.85"/>
<path d="M224.50,345.80 L229.90,352.30" stroke="#505050" stroke-width="0.8" fill="none"/>
<ellipse cx="243.50" cy="331.10" rx="14.7" ry="15.3" fill="#c9c9ca"/>
<path d="M238.70,316.64 A14.7,15.3 0 0 0 238.70,345.56 Z" fill="#f4e858"/>
<rect x="326.30" y="306.90" width="5.6" height="3.4" fill="#808080"/>
<rect x="326.30" y="352.10" width="5.6" height="2.9" fill="#808080"/>
<rect x="335.25" y="306.90" width="5.6" height="3.4" fill="#808080"/>
<rect x="335.25" y="352.10" width="5.6" height="2.9" fill="#808080"/>
<rect x="344.20" y="306.90" width="5.6" height="3.4" fill="#808080"/>
<rect x="344.20" y="352.10" width="5.6" height="2.9" fill="#808080"/>
<rect x="353.15" y="306.90" width="5.6" height="3.4" fill="#808080"/>
<rect x="353.15" y="352.10" width="5.6" height="2.9" fill="#808080"/>
<rect x="323.00" y="309.80" width="38.6" height="42.8" rx="2.3" ry="2.3" fill="#ffffff" stroke="#505050" stroke-width="0.85"/>
<path d="M323.30,345.80 L328.70,352.30" stroke="#505050" stroke-width="0.8" fill="none"/>
<ellipse cx="342.30" cy="331.10" rx="14.7" ry="15.3" fill="#c9c9ca"/>
<path d="M337.50,316.64 A14.7,15.3 0 0 0 337.50,345.56 Z" fill="#f4e858"/>
<rect x="426.30" y="306.90" width="5.6" height="3.4" fill="#808080"/>
<rect x="426.30" y="352.10" width="5.6" height="2.9" fill="#808080"/>
<rect x="435.25" y="306.90" width="5.6" height="3.4" fill="#808080"/>
<rect x="435.25" y="352.10" width="5.6" height="2.9" fill="#808080"/>
<rect x="444.20" y="306.90" width="5.6" height="3.4" fill="#808080"/>
<rect x="444.20" y="352.10" width="5.6" height="2.9" fill="#808080"/>
<rect x="453.15" y="306.90" width="5.6" height="3.4" fill="#808080"/>
<rect x="453.15" y="352.10" width="5.6" height="2.9" fill="#808080"/>
<rect x="423.00" y="309.80" width="38.6" height="42.8" rx="2.3" ry="2.3" fill="#ffffff" stroke="#505050" stroke-width="0.85"/>
<path d="M423.30,345.80 L428.70,352.30" stroke="#505050" stroke-width="0.8" fill="none"/>
<ellipse cx="442.30" cy="331.10" rx="14.7" ry="15.3" fill="#c9c9ca"/>
<path d="M437.50,316.64 A14.7,15.3 0 0 0 437.50,345.56 Z" fill="#f4e858"/>
<rect x="525.10" y="306.90" width="5.6" height="3.4" fill="#808080"/>
<rect x="525.10" y="352.10" width="5.6" height="2.9" fill="#808080"/>
<rect x="534.05" y="306.90" width="5.6" height="3.4" fill="#808080"/>
<rect x="534.05" y="352.10" width="5.6" height="2.9" fill="#808080"/>
<rect x="543.00" y="306.90" width="5.6" height="3.4" fill="#808080"/>
<rect x="543.00" y="352.10" width="5.6" height="2.9" fill="#808080"/>
<rect x="551.95" y="306.90" width="5.6" height="3.4" fill="#808080"/>
<rect x="551.95" y="352.10" width="5.6" height="2.9" fill="#808080"/>
<rect x="521.80" y="309.80" width="38.6" height="42.8" rx="2.3" ry="2.3" fill="#ffffff" stroke="#505050" stroke-width="0.85"/>
<path d="M522.10,345.80 L527.50,352.30" stroke="#505050" stroke-width="0.8" fill="none"/>
<ellipse cx="541.10" cy="331.10" rx="14.7" ry="15.3" fill="#c9c9ca"/>
<path d="M536.30,316.64 A14.7,15.3 0 0 0 536.30,345.56 Z" fill="#f4e858"/>
<rect x="624.70" y="306.90" width="5.6" height="3.4" fill="#808080"/>
<rect x="624.70" y="352.10" width="5.6" height="2.9" fill="#808080"/>
<rect x="633.65" y="306.90" width="5.6" height="3.4" fill="#808080"/>
<rect x="633.65" y="352.10" width="5.6" height="2.9" fill="#808080"/>
<rect x="642.60" y="306.90" width="5.6" height="3.4" fill="#808080"/>
<rect x="642.60" y="352.10" width="5.6" height="2.9" fill="#808080"/>
<rect x="651.55" y="306.90" width="5.6" height="3.4" fill="#808080"/>
<rect x="651.55" y="352.10" width="5.6" height="2.9" fill="#808080"/>
<rect x="621.40" y="309.80" width="38.6" height="42.8" rx="2.3" ry="2.3" fill="#ffffff" stroke="#505050" stroke-width="0.85"/>
<path d="M621.70,345.80 L627.10,352.30" stroke="#505050" stroke-width="0.8" fill="none"/>
<ellipse cx="640.70" cy="331.10" rx="14.7" ry="15.3" fill="#c9c9ca"/>
<path d="M635.90,316.64 A14.7,15.3 0 0 0 635.90,345.56 Z" fill="#f4e858"/>
<rect x="175.20" y="311.20" width="37.5" height="40.4" fill="#f5f5f5"/>
<path d="M175.20,322.80 V311.20 H212.70 V322.80 M175.20,339.00 V351.60 H212.70 V339.00" stroke="#8e8e8e" stroke-width="0.85" fill="none"/>
<path d="M193.90,311.20 V322.80 M193.90,339.00 V351.60" stroke="#8a8a8a" stroke-width="1.2" fill="none"/>
<ellipse cx="184.60" cy="317.30" rx="4.1" ry="2.7" fill="#e2e2e2"/>
<ellipse cx="184.60" cy="344.00" rx="4.1" ry="2.7" fill="#e2e2e2"/>
<rect x="179.70" y="322.50" width="9.8" height="16.0" fill="#231815"/>
<text x="185.00" y="309.30" font-size="9.0" fill="#1a1a1a" font-weight="bold" text-anchor="middle" >R</text>
<ellipse cx="203.50" cy="317.30" rx="4.1" ry="2.7" fill="#e2e2e2"/>
<ellipse cx="203.50" cy="344.00" rx="4.1" ry="2.7" fill="#e2e2e2"/>
<rect x="198.60" y="322.50" width="9.8" height="16.0" fill="#231815"/>
<text x="203.90" y="309.30" font-size="9.0" fill="#1a1a1a" font-weight="bold" text-anchor="middle" >G</text>
<rect x="273.70" y="311.20" width="37.5" height="40.4" fill="#f5f5f5"/>
<path d="M273.70,322.80 V311.20 H311.20 V322.80 M273.70,339.00 V351.60 H311.20 V339.00" stroke="#8e8e8e" stroke-width="0.85" fill="none"/>
<path d="M292.40,311.20 V322.80 M292.40,339.00 V351.60" stroke="#8a8a8a" stroke-width="1.2" fill="none"/>
<ellipse cx="283.10" cy="317.30" rx="4.1" ry="2.7" fill="#e2e2e2"/>
<ellipse cx="283.10" cy="344.00" rx="4.1" ry="2.7" fill="#e2e2e2"/>
<rect x="278.20" y="322.50" width="9.8" height="16.0" fill="#231815"/>
<text x="283.50" y="309.30" font-size="9.0" fill="#1a1a1a" font-weight="bold" text-anchor="middle" >R</text>
<ellipse cx="302.00" cy="317.30" rx="4.1" ry="2.7" fill="#e2e2e2"/>
<ellipse cx="302.00" cy="344.00" rx="4.1" ry="2.7" fill="#e2e2e2"/>
<rect x="297.10" y="322.50" width="9.8" height="16.0" fill="#231815"/>
<text x="302.40" y="309.30" font-size="9.0" fill="#1a1a1a" font-weight="bold" text-anchor="middle" >G</text>
<rect x="472.50" y="311.20" width="37.5" height="40.4" fill="#f5f5f5"/>
<path d="M472.50,322.80 V311.20 H510.00 V322.80 M472.50,339.00 V351.60 H510.00 V339.00" stroke="#8e8e8e" stroke-width="0.85" fill="none"/>
<path d="M491.20,311.20 V322.80 M491.20,339.00 V351.60" stroke="#8a8a8a" stroke-width="1.2" fill="none"/>
<ellipse cx="481.90" cy="317.30" rx="4.1" ry="2.7" fill="#e2e2e2"/>
<ellipse cx="481.90" cy="344.00" rx="4.1" ry="2.7" fill="#e2e2e2"/>
<rect x="477.00" y="322.50" width="9.8" height="16.0" fill="#231815"/>
<text x="482.30" y="309.30" font-size="9.0" fill="#1a1a1a" font-weight="bold" text-anchor="middle" >R</text>
<ellipse cx="500.80" cy="317.30" rx="4.1" ry="2.7" fill="#e2e2e2"/>
<ellipse cx="500.80" cy="344.00" rx="4.1" ry="2.7" fill="#e2e2e2"/>
<rect x="495.90" y="322.50" width="9.8" height="16.0" fill="#231815"/>
<text x="501.20" y="309.30" font-size="9.0" fill="#1a1a1a" font-weight="bold" text-anchor="middle" >G</text>
<rect x="571.30" y="311.20" width="37.5" height="40.4" fill="#f5f5f5"/>
<path d="M571.30,322.80 V311.20 H608.80 V322.80 M571.30,339.00 V351.60 H608.80 V339.00" stroke="#8e8e8e" stroke-width="0.85" fill="none"/>
<path d="M590.00,311.20 V322.80 M590.00,339.00 V351.60" stroke="#8a8a8a" stroke-width="1.2" fill="none"/>
<ellipse cx="580.70" cy="317.30" rx="4.1" ry="2.7" fill="#e2e2e2"/>
<ellipse cx="580.70" cy="344.00" rx="4.1" ry="2.7" fill="#e2e2e2"/>
<rect x="575.80" y="322.50" width="9.8" height="16.0" fill="#231815"/>
<text x="581.10" y="309.30" font-size="9.0" fill="#1a1a1a" font-weight="bold" text-anchor="middle" >R</text>
<ellipse cx="599.60" cy="317.30" rx="4.1" ry="2.7" fill="#e2e2e2"/>
<ellipse cx="599.60" cy="344.00" rx="4.1" ry="2.7" fill="#e2e2e2"/>
<rect x="594.70" y="322.50" width="9.8" height="16.0" fill="#231815"/>
<text x="600.00" y="309.30" font-size="9.0" fill="#1a1a1a" font-weight="bold" text-anchor="middle" >G</text>
<path d="M99.40,293.30 V368.00" stroke="#3c3c3c" stroke-width="1.3" fill="none"/>
<rect x="91.10" y="296.50" width="17.0" height="8.6" rx="5.3" ry="4.3" fill="#f5a65b"/>
<rect x="91.10" y="311.00" width="17.0" height="8.6" rx="5.3" ry="4.3" fill="#f5a65b"/>
<rect x="91.10" y="325.50" width="17.0" height="8.6" rx="5.3" ry="4.3" fill="#f5a65b"/>
<rect x="91.10" y="340.00" width="17.0" height="8.6" rx="5.3" ry="4.3" fill="#f5a65b"/>
<rect x="91.10" y="354.50" width="17.0" height="8.6" rx="5.3" ry="4.3" fill="#f5a65b"/>
<rect x="678.90" y="296.50" width="17.0" height="8.6" rx="5.3" ry="4.3" fill="#f5a65b"/>
<rect x="678.90" y="311.00" width="17.0" height="8.6" rx="5.3" ry="4.3" fill="#f5a65b"/>
<rect x="678.90" y="325.50" width="17.0" height="8.6" rx="5.3" ry="4.3" fill="#f5a65b"/>
<rect x="678.90" y="340.00" width="17.0" height="8.6" rx="5.3" ry="4.3" fill="#f5a65b"/>
<rect x="678.90" y="354.50" width="17.0" height="8.6" rx="5.3" ry="4.3" fill="#f5a65b"/>
<text x="113.4" y="305.30" font-size="9.8" fill="#1a1a1a" font-weight="bold" text-anchor="start" textLength="22.7" lengthAdjust="spacingAndGlyphs" >+12V</text>
<text x="113.40" y="319.15" font-size="9.1" fill="#1a1a1a" font-weight="bold" text-anchor="start" textLength="6.5" lengthAdjust="spacingAndGlyphs" >G</text>
<text x="113.40" y="335.15" font-size="9.1" fill="#1a1a1a" font-weight="bold" text-anchor="start" textLength="6.2" lengthAdjust="spacingAndGlyphs" >R</text>
<text x="113.40" y="349.75" font-size="9.1" fill="#1a1a1a" font-weight="bold" text-anchor="start" textLength="6.0" lengthAdjust="spacingAndGlyphs" >B</text>
<text x="113.80" y="364.80" font-size="9.4" fill="#1a1a1a" font-weight="bold" text-anchor="start" textLength="6.6" lengthAdjust="spacingAndGlyphs" >w</text>
<text x="676.8" y="305.30" font-size="9.8" fill="#1a1a1a" font-weight="bold" text-anchor="end" textLength="22.7" lengthAdjust="spacingAndGlyphs" >+12V</text>
<text x="668.20" y="319.15" font-size="9.1" fill="#1a1a1a" font-weight="bold" text-anchor="start" textLength="6.5" lengthAdjust="spacingAndGlyphs" >G</text>
<text x="668.20" y="335.15" font-size="9.1" fill="#1a1a1a" font-weight="bold" text-anchor="start" textLength="6.2" lengthAdjust="spacingAndGlyphs" >R</text>
<text x="668.20" y="349.75" font-size="9.1" fill="#1a1a1a" font-weight="bold" text-anchor="start" textLength="6.0" lengthAdjust="spacingAndGlyphs" >B</text>
<text x="668.60" y="364.80" font-size="9.4" fill="#1a1a1a" font-weight="bold" text-anchor="start" textLength="6.6" lengthAdjust="spacingAndGlyphs" >w</text>
<rect x="384.70" y="296.50" width="17.0" height="8.6" rx="5.3" ry="4.3" fill="#f5a65b"/>
<rect x="384.70" y="311.00" width="17.0" height="8.6" rx="5.3" ry="4.3" fill="#f5a65b"/>
<rect x="384.70" y="325.50" width="17.0" height="8.6" rx="5.3" ry="4.3" fill="#f5a65b"/>
<rect x="384.70" y="340.00" width="17.0" height="8.6" rx="5.3" ry="4.3" fill="#f5a65b"/>
<rect x="384.70" y="354.50" width="17.0" height="8.6" rx="5.3" ry="4.3" fill="#f5a65b"/>
<text x="378.6" y="305.30" font-size="9.8" fill="#1a1a1a" font-weight="bold" text-anchor="end" textLength="22.7" lengthAdjust="spacingAndGlyphs" >+12V</text>
<text x="370.00" y="319.15" font-size="9.1" fill="#1a1a1a" font-weight="bold" text-anchor="start" textLength="6.5" lengthAdjust="spacingAndGlyphs" >G</text>
<text x="370.00" y="335.15" font-size="9.1" fill="#1a1a1a" font-weight="bold" text-anchor="start" textLength="6.2" lengthAdjust="spacingAndGlyphs" >R</text>
<text x="370.00" y="349.75" font-size="9.1" fill="#1a1a1a" font-weight="bold" text-anchor="start" textLength="6.0" lengthAdjust="spacingAndGlyphs" >B</text>
<text x="370.40" y="364.80" font-size="9.4" fill="#1a1a1a" font-weight="bold" text-anchor="start" textLength="6.6" lengthAdjust="spacingAndGlyphs" >w</text>
<text x="412.4" y="305.30" font-size="9.8" fill="#1a1a1a" font-weight="bold" text-anchor="start" textLength="22.7" lengthAdjust="spacingAndGlyphs" >+12V</text>
<text x="412.40" y="319.15" font-size="9.1" fill="#1a1a1a" font-weight="bold" text-anchor="start" textLength="6.5" lengthAdjust="spacingAndGlyphs" >G</text>
<text x="412.40" y="335.15" font-size="9.1" fill="#1a1a1a" font-weight="bold" text-anchor="start" textLength="6.2" lengthAdjust="spacingAndGlyphs" >R</text>
<text x="412.40" y="349.75" font-size="9.1" fill="#1a1a1a" font-weight="bold" text-anchor="start" textLength="6.0" lengthAdjust="spacingAndGlyphs" >B</text>
<text x="412.80" y="364.80" font-size="9.4" fill="#1a1a1a" font-weight="bold" text-anchor="start" textLength="6.6" lengthAdjust="spacingAndGlyphs" >w</text>
<path d="M393.10,293.30 V367.60" stroke="#383838" stroke-width="1.0" fill="none"/>
<path d="M686.80,293.30 V367.60" stroke="#383838" stroke-width="1.0" fill="none"/>
<path d="M99.30,370.60 V403.80" stroke="#8c8c8c" stroke-width="0.8" fill="none"/>
<path d="M393.20,370.60 V403.80" stroke="#8c8c8c" stroke-width="0.8" fill="none"/>
<g transform="translate(98.90,396.40)" fill="#000">
<g transform="scale(1,1)">
<path d="M0.3,13.5 L-8.4,0.3 Q-9.4,-0.3 -9.9,1.0 C-11.5,6 -9.8,12.6 -3.8,17.9 L0.3,22 Z"/>
<path d="M-3.8,17.9 Q-7.4,23.6 -13.0,26.0 L-9.6,31.8 L-3.0,32.8 Q-3.6,27 0.3,21.4 L0.3,17.5 Z"/>
<circle cx="-9.6" cy="31.8" r="6.6"/>
<circle cx="-9.6" cy="31.8" r="3.2" fill="#fff"/>
</g>
<g transform="scale(-1,1)">
<path d="M0.3,13.5 L-8.4,0.3 Q-9.4,-0.3 -9.9,1.0 C-11.5,6 -9.8,12.6 -3.8,17.9 L0.3,22 Z"/>
<path d="M-3.8,17.9 Q-7.4,23.6 -13.0,26.0 L-9.6,31.8 L-3.0,32.8 Q-3.6,27 0.3,21.4 L0.3,17.5 Z"/>
<circle cx="-9.6" cy="31.8" r="6.6"/>
<circle cx="-9.6" cy="31.8" r="3.2" fill="#fff"/>
</g>
</g>
<g transform="translate(393.20,396.40)" fill="#000">
<g transform="scale(1,1)">
<path d="M0.3,13.5 L-8.4,0.3 Q-9.4,-0.3 -9.9,1.0 C-11.5,6 -9.8,12.6 -3.8,17.9 L0.3,22 Z"/>
<path d="M-3.8,17.9 Q-7.4,23.6 -13.0,26.0 L-9.6,31.8 L-3.0,32.8 Q-3.6,27 0.3,21.4 L0.3,17.5 Z"/>
<circle cx="-9.6" cy="31.8" r="6.6"/>
<circle cx="-9.6" cy="31.8" r="3.2" fill="#fff"/>
</g>
<g transform="scale(-1,1)">
<path d="M0.3,13.5 L-8.4,0.3 Q-9.4,-0.3 -9.9,1.0 C-11.5,6 -9.8,12.6 -3.8,17.9 L0.3,22 Z"/>
<path d="M-3.8,17.9 Q-7.4,23.6 -13.0,26.0 L-9.6,31.8 L-3.0,32.8 Q-3.6,27 0.3,21.4 L0.3,17.5 Z"/>
<circle cx="-9.6" cy="31.8" r="6.6"/>
<circle cx="-9.6" cy="31.8" r="3.2" fill="#fff"/>
</g>
</g>
<text x="91.6" y="491.2" font-size="20" fill="#231815" font-weight="bold" text-anchor="start" textLength="66.2" lengthAdjust="spacing" >DC24V</text>
<path d="M96.8,509.2 H334.5 M450.2,509.2 H687.4" stroke="#4f4f4f" stroke-width="1.15" fill="none"/>
<path d="M96.8,502.0 V516.4 M687.4,502.0 V516.4" stroke="#4a4a4a" stroke-width="1.3" fill="none"/>
<text x="393.9" y="515.5" font-size="16.8" fill="#cb1c25" font-weight="normal" text-anchor="middle" textLength="61.3" lengthAdjust="spacingAndGlyphs" >100mm</text>
<path d="M244.2,538.8 H342.4" stroke="#4f4f4f" stroke-width="1.15" fill="none"/>
<path d="M244.2,531.5999999999999 V546.0 M342.4,531.5999999999999 V546.0" stroke="#4a4a4a" stroke-width="1.3" fill="none"/>
<text x="266.9" y="536.1" font-size="17" fill="#cb1c25" font-weight="normal" text-anchor="start" textLength="69.5" lengthAdjust="spacingAndGlyphs" >16.5mm</text>
<path d="M56.5,546.4 V575.6 M56.5,593.5 V622.4 M51.3,546.4 H61.7 M51.3,622.4 H61.7" stroke="#4f4f4f" stroke-width="1.15" fill="none"/>
<text x="31.3" y="590.4" font-size="17" fill="#cb1c25" font-weight="normal" text-anchor="start" textLength="53.0" lengthAdjust="spacingAndGlyphs" >10mm</text>
<rect x="88.3" y="547.9" width="609.7" height="74" fill="#ebebeb"/>
<rect x="129.00" y="561.20" width="5.6" height="3.4" fill="#808080"/>
<rect x="129.00" y="606.40" width="5.6" height="2.9" fill="#808080"/>
<rect x="137.95" y="561.20" width="5.6" height="3.4" fill="#808080"/>
<rect x="137.95" y="606.40" width="5.6" height="2.9" fill="#808080"/>
<rect x="146.90" y="561.20" width="5.6" height="3.4" fill="#808080"/>
<rect x="146.90" y="606.40" width="5.6" height="2.9" fill="#808080"/>
<rect x="155.85" y="561.20" width="5.6" height="3.4" fill="#808080"/>
<rect x="155.85" y="606.40" width="5.6" height="2.9" fill="#808080"/>
<rect x="125.70" y="564.10" width="38.6" height="42.8" rx="2.3" ry="2.3" fill="#ffffff" stroke="#505050" stroke-width="0.85"/>
<path d="M126.00,600.10 L131.40,606.60" stroke="#505050" stroke-width="0.8" fill="none"/>
<ellipse cx="145.00" cy="585.40" rx="14.7" ry="15.3" fill="#c9c9ca"/>
<path d="M140.20,570.94 A14.7,15.3 0 0 0 140.20,599.86 Z" fill="#f4e858"/>
<rect x="227.50" y="561.20" width="5.6" height="3.4" fill="#808080"/>
<rect x="227.50" y="606.40" width="5.6" height="2.9" fill="#808080"/>
<rect x="236.45" y="561.20" width="5.6" height="3.4" fill="#808080"/>
<rect x="236.45" y="606.40" width="5.6" height="2.9" fill="#808080"/>
<rect x="245.40" y="561.20" width="5.6" height="3.4" fill="#808080"/>
<rect x="245.40" y="606.40" width="5.6" height="2.9" fill="#808080"/>
<rect x="254.35" y="561.20" width="5.6" height="3.4" fill="#808080"/>
<rect x="254.35" y="606.40" width="5.6" height="2.9" fill="#808080"/>
<rect x="224.20" y="564.10" width="38.6" height="42.8" rx="2.3" ry="2.3" fill="#ffffff" stroke="#505050" stroke-width="0.85"/>
<path d="M224.50,600.10 L229.90,606.60" stroke="#505050" stroke-width="0.8" fill="none"/>
<ellipse cx="243.50" cy="585.40" rx="14.7" ry="15.3" fill="#c9c9ca"/>
<path d="M238.70,570.94 A14.7,15.3 0 0 0 238.70,599.86 Z" fill="#f4e858"/>
<rect x="326.30" y="561.20" width="5.6" height="3.4" fill="#808080"/>
<rect x="326.30" y="606.40" width="5.6" height="2.9" fill="#808080"/>
<rect x="335.25" y="561.20" width="5.6" height="3.4" fill="#808080"/>
<rect x="335.25" y="606.40" width="5.6" height="2.9" fill="#808080"/>
<rect x="344.20" y="561.20" width="5.6" height="3.4" fill="#808080"/>
<rect x="344.20" y="606.40" width="5.6" height="2.9" fill="#808080"/>
<rect x="353.15" y="561.20" width="5.6" height="3.4" fill="#808080"/>
<rect x="353.15" y="606.40" width="5.6" height="2.9" fill="#808080"/>
<rect x="323.00" y="564.10" width="38.6" height="42.8" rx="2.3" ry="2.3" fill="#ffffff" stroke="#505050" stroke-width="0.85"/>
<path d="M323.30,600.10 L328.70,606.60" stroke="#505050" stroke-width="0.8" fill="none"/>
<ellipse cx="342.30" cy="585.40" rx="14.7" ry="15.3" fill="#c9c9ca"/>
<path d="M337.50,570.94 A14.7,15.3 0 0 0 337.50,599.86 Z" fill="#f4e858"/>
<rect x="426.30" y="561.20" width="5.6" height="3.4" fill="#808080"/>
<rect x="426.30" y="606.40" width="5.6" height="2.9" fill="#808080"/>
<rect x="435.25" y="561.20" width="5.6" height="3.4" fill="#808080"/>
<rect x="435.25" y="606.40" width="5.6" height="2.9" fill="#808080"/>
<rect x="444.20" y="561.20" width="5.6" height="3.4" fill="#808080"/>
<rect x="444.20" y="606.40" width="5.6" height="2.9" fill="#808080"/>
<rect x="453.15" y="561.20" width="5.6" height="3.4" fill="#808080"/>
<rect x="453.15" y="606.40" width="5.6" height="2.9" fill="#808080"/>
<rect x="423.00" y="564.10" width="38.6" height="42.8" rx="2.3" ry="2.3" fill="#ffffff" stroke="#505050" stroke-width="0.85"/>
<path d="M423.30,600.10 L428.70,606.60" stroke="#505050" stroke-width="0.8" fill="none"/>
<ellipse cx="442.30" cy="585.40" rx="14.7" ry="15.3" fill="#c9c9ca"/>
<path d="M437.50,570.94 A14.7,15.3 0 0 0 437.50,599.86 Z" fill="#f4e858"/>
<rect x="525.10" y="561.20" width="5.6" height="3.4" fill="#808080"/>
<rect x="525.10" y="606.40" width="5.6" height="2.9" fill="#808080"/>
<rect x="534.05" y="561.20" width="5.6" height="3.4" fill="#808080"/>
<rect x="534.05" y="606.40" width="5.6" height="2.9" fill="#808080"/>
<rect x="543.00" y="561.20" width="5.6" height="3.4" fill="#808080"/>
<rect x="543.00" y="606.40" width="5.6" height="2.9" fill="#808080"/>
<rect x="551.95" y="561.20" width="5.6" height="3.4" fill="#808080"/>
<rect x="551.95" y="606.40" width="5.6" height="2.9" fill="#808080"/>
<rect x="521.80" y="564.10" width="38.6" height="42.8" rx="2.3" ry="2.3" fill="#ffffff" stroke="#505050" stroke-width="0.85"/>
<path d="M522.10,600.10 L527.50,606.60" stroke="#505050" stroke-width="0.8" fill="none"/>
<ellipse cx="541.10" cy="585.40" rx="14.7" ry="15.3" fill="#c9c9ca"/>
<path d="M536.30,570.94 A14.7,15.3 0 0 0 536.30,599.86 Z" fill="#f4e858"/>
<rect x="624.70" y="561.20" width="5.6" height="3.4" fill="#808080"/>
<rect x="624.70" y="606.40" width="5.6" height="2.9" fill="#808080"/>
<rect x="633.65" y="561.20" width="5.6" height="3.4" fill="#808080"/>
<rect x="633.65" y="606.40" width="5.6" height="2.9" fill="#808080"/>
<rect x="642.60" y="561.20" width="5.6" height="3.4" fill="#808080"/>
<rect x="642.60" y="606.40" width="5.6" height="2.9" fill="#808080"/>
<rect x="651.55" y="561.20" width="5.6" height="3.4" fill="#808080"/>
<rect x="651.55" y="606.40" width="5.6" height="2.9" fill="#808080"/>
<rect x="621.40" y="564.10" width="38.6" height="42.8" rx="2.3" ry="2.3" fill="#ffffff" stroke="#505050" stroke-width="0.85"/>
<path d="M621.70,600.10 L627.10,606.60" stroke="#505050" stroke-width="0.8" fill="none"/>
<ellipse cx="640.70" cy="585.40" rx="14.7" ry="15.3" fill="#c9c9ca"/>
<path d="M635.90,570.94 A14.7,15.3 0 0 0 635.90,599.86 Z" fill="#f4e858"/>
<rect x="175.20" y="565.50" width="37.5" height="40.4" fill="#f5f5f5"/>
<path d="M175.20,577.10 V565.50 H212.70 V577.10 M175.20,593.30 V605.90 H212.70 V593.30" stroke="#8e8e8e" stroke-width="0.85" fill="none"/>
<path d="M193.90,565.50 V577.10 M193.90,593.30 V605.90" stroke="#8a8a8a" stroke-width="1.2" fill="none"/>
<ellipse cx="184.60" cy="571.60" rx="4.1" ry="2.7" fill="#e2e2e2"/>
<ellipse cx="184.60" cy="598.30" rx="4.1" ry="2.7" fill="#e2e2e2"/>
<rect x="179.70" y="576.80" width="9.8" height="16.0" fill="#231815"/>
<text x="185.00" y="563.60" font-size="9.0" fill="#1a1a1a" font-weight="bold" text-anchor="middle" >R</text>
<ellipse cx="203.50" cy="571.60" rx="4.1" ry="2.7" fill="#e2e2e2"/>
<ellipse cx="203.50" cy="598.30" rx="4.1" ry="2.7" fill="#e2e2e2"/>
<rect x="198.60" y="576.80" width="9.8" height="16.0" fill="#231815"/>
<text x="203.90" y="563.60" font-size="9.0" fill="#1a1a1a" font-weight="bold" text-anchor="middle" >G</text>
<rect x="273.70" y="565.50" width="37.5" height="40.4" fill="#f5f5f5"/>
<path d="M273.70,577.10 V565.50 H311.20 V577.10 M273.70,593.30 V605.90 H311.20 V593.30" stroke="#8e8e8e" stroke-width="0.85" fill="none"/>
<path d="M292.40,565.50 V577.10 M292.40,593.30 V605.90" stroke="#8a8a8a" stroke-width="1.2" fill="none"/>
<ellipse cx="283.10" cy="571.60" rx="4.1" ry="2.7" fill="#e2e2e2"/>
<ellipse cx="283.10" cy="598.30" rx="4.1" ry="2.7" fill="#e2e2e2"/>
<rect x="278.20" y="576.80" width="9.8" height="16.0" fill="#231815"/>
<text x="283.50" y="563.60" font-size="9.0" fill="#1a1a1a" font-weight="bold" text-anchor="middle" >R</text>
<ellipse cx="302.00" cy="571.60" rx="4.1" ry="2.7" fill="#e2e2e2"/>
<ellipse cx="302.00" cy="598.30" rx="4.1" ry="2.7" fill="#e2e2e2"/>
<rect x="297.10" y="576.80" width="9.8" height="16.0" fill="#231815"/>
<text x="302.40" y="563.60" font-size="9.0" fill="#1a1a1a" font-weight="bold" text-anchor="middle" >G</text>
<rect x="472.50" y="565.50" width="37.5" height="40.4" fill="#f5f5f5"/>
<path d="M472.50,577.10 V565.50 H510.00 V577.10 M472.50,593.30 V605.90 H510.00 V593.30" stroke="#8e8e8e" stroke-width="0.85" fill="none"/>
<path d="M491.20,565.50 V577.10 M491.20,593.30 V605.90" stroke="#8a8a8a" stroke-width="1.2" fill="none"/>
<ellipse cx="481.90" cy="571.60" rx="4.1" ry="2.7" fill="#e2e2e2"/>
<ellipse cx="481.90" cy="598.30" rx="4.1" ry="2.7" fill="#e2e2e2"/>
<rect x="477.00" y="576.80" width="9.8" height="16.0" fill="#231815"/>
<text x="482.30" y="563.60" font-size="9.0" fill="#1a1a1a" font-weight="bold" text-anchor="middle" >R</text>
<ellipse cx="500.80" cy="571.60" rx="4.1" ry="2.7" fill="#e2e2e2"/>
<ellipse cx="500.80" cy="598.30" rx="4.1" ry="2.7" fill="#e2e2e2"/>
<rect x="495.90" y="576.80" width="9.8" height="16.0" fill="#231815"/>
<text x="501.20" y="563.60" font-size="9.0" fill="#1a1a1a" font-weight="bold" text-anchor="middle" >G</text>
<rect x="571.30" y="565.50" width="37.5" height="40.4" fill="#f5f5f5"/>
<path d="M571.30,577.10 V565.50 H608.80 V577.10 M571.30,593.30 V605.90 H608.80 V593.30" stroke="#8e8e8e" stroke-width="0.85" fill="none"/>
<path d="M590.00,565.50 V577.10 M590.00,593.30 V605.90" stroke="#8a8a8a" stroke-width="1.2" fill="none"/>
<ellipse cx="580.70" cy="571.60" rx="4.1" ry="2.7" fill="#e2e2e2"/>
<ellipse cx="580.70" cy="598.30" rx="4.1" ry="2.7" fill="#e2e2e2"/>
<rect x="575.80" y="576.80" width="9.8" height="16.0" fill="#231815"/>
<text x="581.10" y="563.60" font-size="9.0" fill="#1a1a1a" font-weight="bold" text-anchor="middle" >R</text>
<ellipse cx="599.60" cy="571.60" rx="4.1" ry="2.7" fill="#e2e2e2"/>
<ellipse cx="599.60" cy="598.30" rx="4.1" ry="2.7" fill="#e2e2e2"/>
<rect x="594.70" y="576.80" width="9.8" height="16.0" fill="#231815"/>
<text x="600.00" y="563.60" font-size="9.0" fill="#1a1a1a" font-weight="bold" text-anchor="middle" >G</text>
<path d="M99.40,547.60 V622.30" stroke="#3c3c3c" stroke-width="1.3" fill="none"/>
<path d="M686.80,547.60 V622.30" stroke="#3c3c3c" stroke-width="1.3" fill="none"/>
<rect x="91.10" y="550.80" width="17.0" height="8.6" rx="5.3" ry="4.3" fill="#f5a65b"/>
<rect x="91.10" y="565.30" width="17.0" height="8.6" rx="5.3" ry="4.3" fill="#f5a65b"/>
<rect x="91.10" y="579.80" width="17.0" height="8.6" rx="5.3" ry="4.3" fill="#f5a65b"/>
<rect x="91.10" y="594.30" width="17.0" height="8.6" rx="5.3" ry="4.3" fill="#f5a65b"/>
<rect x="91.10" y="608.80" width="17.0" height="8.6" rx="5.3" ry="4.3" fill="#f5a65b"/>
<rect x="678.90" y="550.80" width="17.0" height="8.6" rx="5.3" ry="4.3" fill="#f5a65b"/>
<rect x="678.90" y="565.30" width="17.0" height="8.6" rx="5.3" ry="4.3" fill="#f5a65b"/>
<rect x="678.90" y="579.80" width="17.0" height="8.6" rx="5.3" ry="4.3" fill="#f5a65b"/>
<rect x="678.90" y="594.30" width="17.0" height="8.6" rx="5.3" ry="4.3" fill="#f5a65b"/>
<rect x="678.90" y="608.80" width="17.0" height="8.6" rx="5.3" ry="4.3" fill="#f5a65b"/>
<text x="113.4" y="559.60" font-size="9.8" fill="#1a1a1a" font-weight="bold" text-anchor="start" textLength="22.7" lengthAdjust="spacingAndGlyphs" >+24V</text>
<text x="113.40" y="573.45" font-size="9.1" fill="#1a1a1a" font-weight="bold" text-anchor="start" textLength="6.5" lengthAdjust="spacingAndGlyphs" >G</text>
<text x="113.40" y="589.45" font-size="9.1" fill="#1a1a1a" font-weight="bold" text-anchor="start" textLength="6.2" lengthAdjust="spacingAndGlyphs" >R</text>
<text x="113.40" y="604.05" font-size="9.1" fill="#1a1a1a" font-weight="bold" text-anchor="start" textLength="6.0" lengthAdjust="spacingAndGlyphs" >B</text>
<text x="113.80" y="619.10" font-size="9.4" fill="#1a1a1a" font-weight="bold" text-anchor="start" textLength="6.6" lengthAdjust="spacingAndGlyphs" >w</text>
<text x="676.8" y="559.60" font-size="9.8" fill="#1a1a1a" font-weight="bold" text-anchor="end" textLength="22.7" lengthAdjust="spacingAndGlyphs" >+24V</text>
<text x="668.20" y="573.45" font-size="9.1" fill="#1a1a1a" font-weight="bold" text-anchor="start" textLength="6.5" lengthAdjust="spacingAndGlyphs" >G</text>
<text x="668.20" y="589.45" font-size="9.1" fill="#1a1a1a" font-weight="bold" text-anchor="start" textLength="6.2" lengthAdjust="spacingAndGlyphs" >R</text>
<text x="668.20" y="604.05" font-size="9.1" fill="#1a1a1a" font-weight="bold" text-anchor="start" textLength="6.0" lengthAdjust="spacingAndGlyphs" >B</text>
<text x="668.60" y="619.10" font-size="9.4" fill="#1a1a1a" font-weight="bold" text-anchor="start" textLength="6.6" lengthAdjust="spacingAndGlyphs" >w</text>
<path d="M99.30,625.70 V659.60" stroke="#8c8c8c" stroke-width="0.8" fill="none"/>
<path d="M686.70,626.00 V659.60" stroke="#8c8c8c" stroke-width="0.8" fill="none"/>
<g transform="translate(98.90,652.20)" fill="#000">
<g transform="scale(1,1)">
<path d="M0.3,13.5 L-8.4,0.3 Q-9.4,-0.3 -9.9,1.0 C-11.5,6 -9.8,12.6 -3.8,17.9 L0.3,22 Z"/>
<path d="M-3.8,17.9 Q-7.4,23.6 -13.0,26.0 L-9.6,31.8 L-3.0,32.8 Q-3.6,27 0.3,21.4 L0.3,17.5 Z"/>
<circle cx="-9.6" cy="31.8" r="6.6"/>
<circle cx="-9.6" cy="31.8" r="3.2" fill="#fff"/>
</g>
<g transform="scale(-1,1)">
<path d="M0.3,13.5 L-8.4,0.3 Q-9.4,-0.3 -9.9,1.0 C-11.5,6 -9.8,12.6 -3.8,17.9 L0.3,22 Z"/>
<path d="M-3.8,17.9 Q-7.4,23.6 -13.0,26.0 L-9.6,31.8 L-3.0,32.8 Q-3.6,27 0.3,21.4 L0.3,17.5 Z"/>
<circle cx="-9.6" cy="31.8" r="6.6"/>
<circle cx="-9.6" cy="31.8" r="3.2" fill="#fff"/>
</g>
</g>
<g transform="translate(686.60,652.20)" fill="#000">
<g transform="scale(1,1)">
<path d="M0.3,13.5 L-8.4,0.3 Q-9.4,-0.3 -9.9,1.0 C-11.5,6 -9.8,12.6 -3.8,17.9 L0.3,22 Z"/>
<path d="M-3.8,17.9 Q-7.4,23.6 -13.0,26.0 L-9.6,31.8 L-3.0,32.8 Q-3.6,27 0.3,21.4 L0.3,17.5 Z"/>
<circle cx="-9.6" cy="31.8" r="6.6"/>
<circle cx="-9.6" cy="31.8" r="3.2" fill="#fff"/>
</g>
<g transform="scale(-1,1)">
<path d="M0.3,13.5 L-8.4,0.3 Q-9.4,-0.3 -9.9,1.0 C-11.5,6 -9.8,12.6 -3.8,17.9 L0.3,22 Z"/>
<path d="M-3.8,17.9 Q-7.4,23.6 -13.0,26.0 L-9.6,31.8 L-3.0,32.8 Q-3.6,27 0.3,21.4 L0.3,17.5 Z"/>
<circle cx="-9.6" cy="31.8" r="6.6"/>
<circle cx="-9.6" cy="31.8" r="3.2" fill="#fff"/>
</g>
</g>
</g>
</svg>
</body></html>
